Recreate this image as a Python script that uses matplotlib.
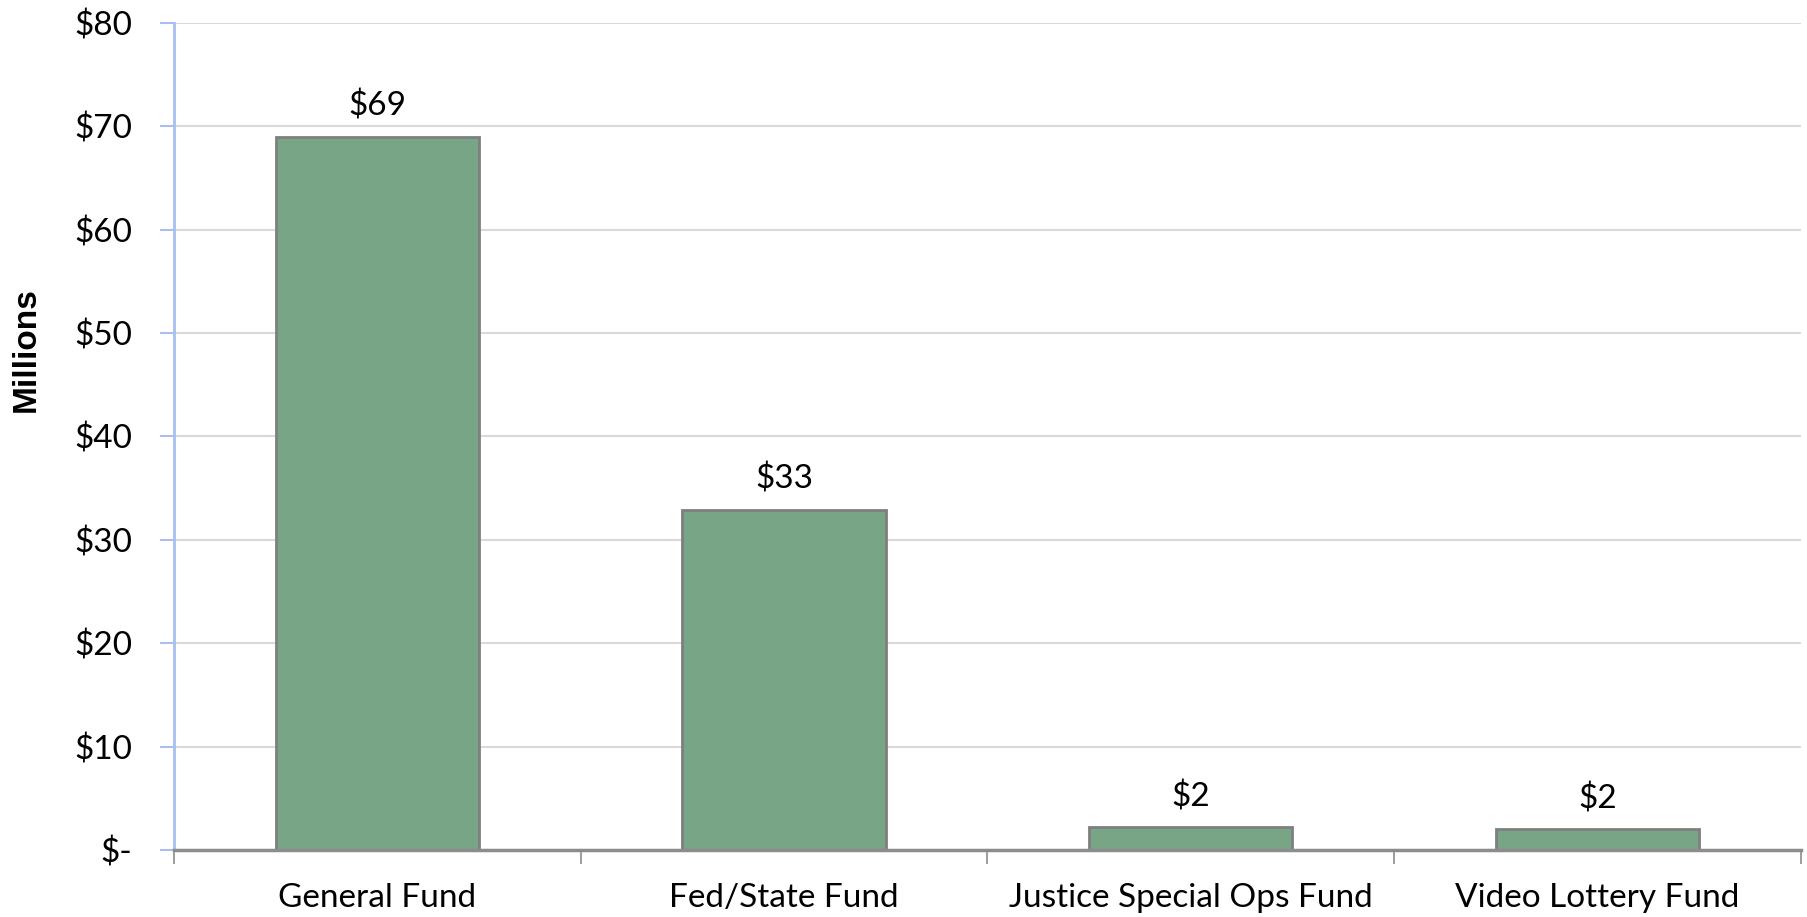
import matplotlib
matplotlib.use("Agg")
import matplotlib.pyplot as plt
from matplotlib.ticker import FixedLocator, FuncFormatter
import numpy as np

funds = ["General Fund", "Fed/State Fund", "Justice Special Ops Fund", "Video Lottery Fund"]
amounts = [69.0, 32.9, 2.2, 2.0]
y_ticks = [0, 10, 20, 30, 40, 50, 60, 70, 80]

plt.rcParams["font.family"] = ["Lato", "DejaVu Sans"]

fig = plt.figure(figsize=(18.08, 9.17), dpi=100)
ax = fig.add_axes([0.0962, 0.073, 0.8998, 0.902])

x = np.arange(len(funds))
ax.bar(x, amounts, width=0.5, color="#78a585", edgecolor="#7f7f7f", linewidth=2, zorder=3)

for xi, v in zip(x, amounts):
    ax.annotate(f"${v:.0f}", (xi, v), xytext=(0, 11), textcoords="offset points",
                ha="center", va="bottom", fontsize=24)

ax.set_xlim(-0.5, len(funds) - 0.5)
ax.set_ylim(0, 80)
ax.set_yticks(y_ticks)
ax.yaxis.set_major_formatter(FuncFormatter(lambda v, p: "$-" if v == 0 else f"${v:.0f}"))
ax.tick_params(axis="y", labelsize=24, length=10, width=1.5, color="#a9bff0", pad=20)

ax.set_xticks(x)
ax.set_xticklabels(funds, fontsize=24)
ax.xaxis.set_minor_locator(FixedLocator(np.arange(-0.5, len(funds), 1.0)))
ax.tick_params(axis="x", which="major", length=0, pad=24)
ax.tick_params(axis="x", which="minor", length=10, width=1.2, color="#8c8c8c", direction="out")

ax.grid(axis="y", color="#d9d9d9", linewidth=1.5, zorder=0)
ax.set_axisbelow(True)

for s in ["top", "right"]:
    ax.spines[s].set_visible(False)
ax.spines["left"].set_color("#a9bff0")
ax.spines["left"].set_linewidth(2)
ax.spines["bottom"].set_color("#8c8c8c")
ax.spines["bottom"].set_linewidth(2.5)
ax.spines["bottom"].set_zorder(4)

ax.set_ylabel("Millions", fontsize=24, fontweight="bold",
              family=["Liberation Sans", "DejaVu Sans"])
ax.yaxis.set_label_coords(-0.0815, 0.605)

fig.savefig("out.png", dpi=100)
